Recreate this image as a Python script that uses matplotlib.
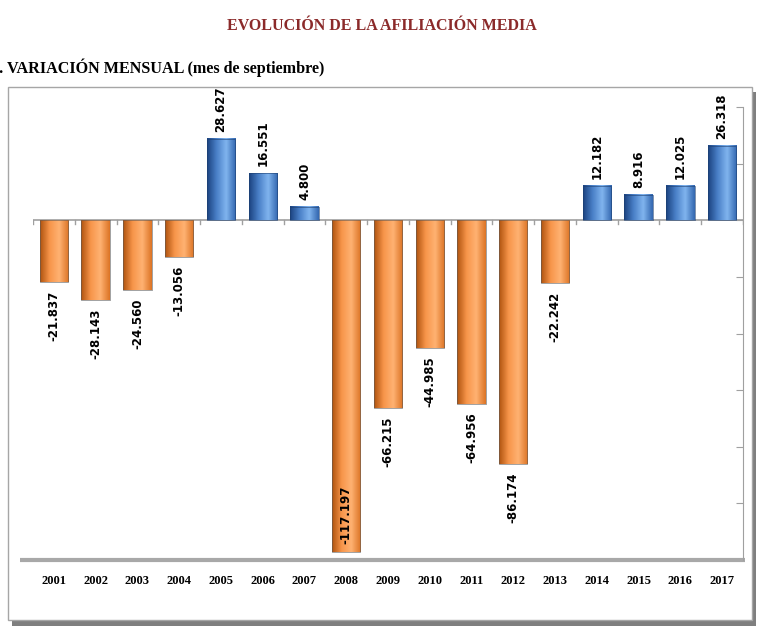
import numpy as np
import matplotlib.pyplot as plt
from matplotlib.patches import Rectangle
from matplotlib.colors import LinearSegmentedColormap

years = ['2001', '2002', '2003', '2004', '2005', '2006', '2007', '2008', '2009',
         '2010', '2011', '2012', '2013', '2014', '2015', '2016', '2017']
values = [-21837, -28143, -24560, -13056, 28627, 16551, 4800, -117197, -66215,
          -44985, -64956, -86174, -22242, 12182, 8916, 12025, 26318]
labels = ['-21.837', '-28.143', '-24.560', '-13.056', '28.627', '16.551', '4.800',
          '-117.197', '-66.215', '-44.985', '-64.956', '-86.174', '-22.242',
          '12.182', '8.916', '12.025', '26.318']

fig = plt.figure(figsize=(7.63, 6.36), dpi=100)

# outer frame with shadow
fig.patches.append(Rectangle((12 / 763, 1 - 626 / 636), 744 / 763, 534 / 636,
                             transform=fig.transFigure, facecolor='#7f7f7f',
                             edgecolor='none', zorder=-2))
fig.patches.append(Rectangle((8 / 763, 1 - 620 / 636), 744 / 763, 533 / 636,
                             transform=fig.transFigure, facecolor='white',
                             edgecolor='#a6a6a6', lw=1, zorder=-1))

fig.text(0.5, 1 - 26 / 636, 'EVOLUCIÓN DE LA AFILIACIÓN MEDIA', ha='center', va='center',
         fontsize=11.5, fontweight='bold', color='#8b2a2a', family='Liberation Serif')
fig.text(-9 / 763, 1 - 68 / 636, '1. VARIACIÓN MENSUAL (mes de septiembre)', ha='left',
         va='center', fontsize=11.6, fontweight='bold', color='black', family='Liberation Serif')

ax = fig.add_axes([33 / 763, 1 - 560 / 636, (743 - 33) / 763, 453 / 636])
ax.set_facecolor('none')
x = np.arange(len(years))
ax.set_xlim(-0.5, len(years) - 0.5)
ax.set_ylim(-120000, 40000)

orange = LinearSegmentedColormap.from_list('o', ['#b05410', '#f7954a', '#ffb272', '#dc7426'])
blue = LinearSegmentedColormap.from_list('b', ['#1b4380', '#4a80c8', '#80b4ee', '#3468b0'])
grad = np.linspace(0, 1, 64).reshape(1, -1)

bars = ax.bar(x, values, width=0.68, color='none', edgecolor='none', zorder=3)
for b, v in zip(bars, values):
    x0, w = b.get_x(), b.get_width()
    y0, y1 = sorted([0, v])
    cm = blue if v > 0 else orange
    ax.imshow(grad, cmap=cm, aspect='auto', extent=[x0, x0 + w, y0, y1],
              interpolation='bilinear', zorder=3)
    ax.add_patch(Rectangle((x0, y0), w, y1 - y0, facecolor='none',
                           edgecolor='#5a5a5a' if v < 0 else '#1d3f70', lw=0.4, zorder=4))

for xi, v, lab in zip(x, values, labels):
    if v > 0:
        ax.text(xi, v + 2500, lab, rotation=90, ha='center', va='bottom',
                fontsize=8.5, fontweight='bold', color='black', zorder=5)
    elif v < -100000:
        # no room below: put it inside the bar
        ax.text(xi, v + 3000, lab, rotation=90, ha='center', va='bottom',
                fontsize=8.5, fontweight='bold', color='black', zorder=5)
    else:
        ax.text(xi, v - 3000, lab, rotation=90, ha='center', va='top',
                fontsize=8.5, fontweight='bold', color='black', zorder=5)

# zero line with category ticks
ax.axhline(0, color='#a0a0a0', lw=1.2, zorder=2)
for b in np.arange(-0.5, len(years), 1.0):
    ax.plot([b, b], [0, -1500], color='#a0a0a0', lw=1, zorder=2)

# floor
ax.plot([-0.8, len(years) - 0.45], [-120000, -120000], color='#a8a8a8', lw=3,
        solid_capstyle='butt', clip_on=False, zorder=2)

for s in ['top', 'left', 'bottom']:
    ax.spines[s].set_visible(False)
ax.spines['right'].set_color('#a0a0a0')
ax.yaxis.tick_right()
ax.set_yticks(np.arange(-120000, 50000, 20000))
ax.set_yticklabels([])
ax.tick_params(axis='y', direction='in', length=5, color='#a0a0a0')
ax.set_xticks(x)
ax.set_xticklabels(years, fontsize=9, fontweight='bold', family='Liberation Serif')
ax.tick_params(axis='x', length=0, pad=11)

fig.savefig('out.png', dpi=100)
